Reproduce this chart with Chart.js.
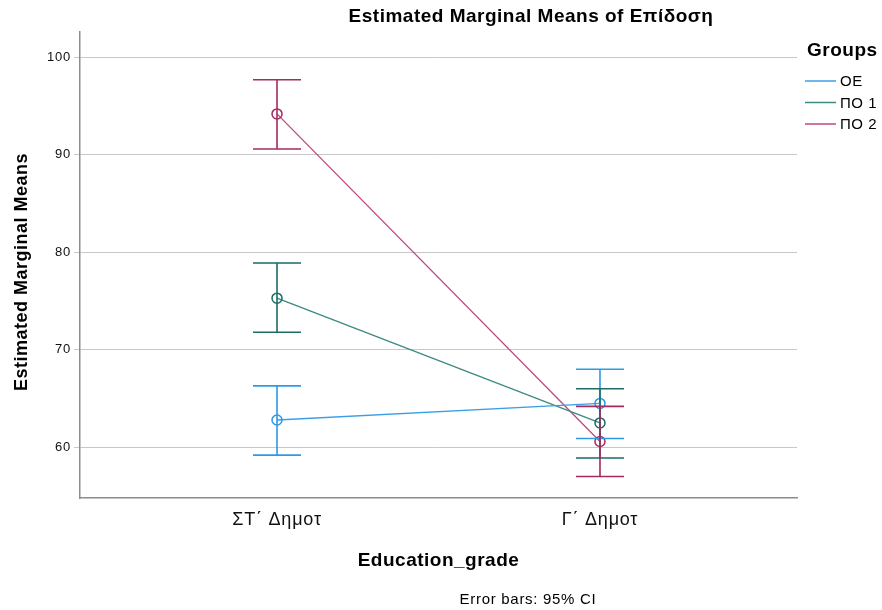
<!DOCTYPE html>
<html>
<head>
<meta charset="utf-8">
<script src="https://cdn.jsdelivr.net/npm/chart.js@4/dist/chart.umd.min.js"></script>
<style>
html,body{margin:0;padding:0;background:#fff;}
#wrap{width:882px;height:610px;position:relative;}
</style>
</head>
<body>
<div id="wrap"><canvas id="c" width="882" height="610"></canvas></div>
<script>
// ---- data ----
const categories = ['ΣΤ΄ Δημοτ', 'Γ΄ Δημοτ'];
const groups = ['ΟΕ', 'ΠΟ 1', 'ΠΟ 2'];
const meanOE  = [62.8, 64.5];
const lowOE   = [59.2, 60.9];
const highOE  = [66.3, 68.0];
const meanPO1 = [75.3, 62.5];
const lowPO1  = [71.8, 58.9];
const highPO1 = [78.9, 66.0];
const meanPO2 = [94.2, 60.6];
const lowPO2  = [90.6, 57.0];
const highPO2 = [97.7, 64.2];
const yTicks = [60, 70, 80, 90, 100];

const titleText = 'Estimated Marginal Means of Επίδοση';
const yTitle = 'Estimated Marginal Means';
const xTitle = 'Education_grade';
const legendTitle = 'Groups';
const footnote = 'Error bars: 95% CI';

// ---- styles ----
const lineColors = ['#3a9fe6', '#3c8a82', '#bc4a80'];
const barColors  = ['#2c9ae6', '#1d6c65', '#a42b60'];
const FONT = "'Liberation Sans', Arial, sans-serif";

const means = [meanOE, meanPO1, meanPO2];
const lows  = [lowOE, lowPO1, lowPO2];
const highs = [highOE, highPO1, highPO2];

const datasets = groups.map((g, k) => ({
  label: g,
  data: categories.map((c, i) => ({x: i, y: means[k][i]})),
  borderColor: lineColors[k],
  borderWidth: 1.3,
  pointRadius: 5,
  pointHoverRadius: 5,
  pointBackgroundColor: 'rgba(0,0,0,0)',
  pointBorderColor: barColors[k],
  pointBorderWidth: 1.5,
  tension: 0,
  showLine: true
}));

const spacing = {
  id: 'spacing',
  beforeDraw(chart) { chart.ctx.letterSpacing = '0.8px'; }
};

const errorBars = {
  id: 'errorBars',
  afterDatasetsDraw(chart) {
    const ctx = chart.ctx, xs = chart.scales.x, ys = chart.scales.y;
    ctx.save();
    groups.forEach((g, k) => {
      ctx.strokeStyle = barColors[k];
      ctx.lineWidth = 1.6;
      categories.forEach((c, i) => {
        const x = xs.getPixelForValue(i);
        const yl = ys.getPixelForValue(lows[k][i]);
        const yh = ys.getPixelForValue(highs[k][i]);
        const hw = 24;
        ctx.beginPath();
        ctx.moveTo(x, yl); ctx.lineTo(x, yh);
        ctx.moveTo(x - hw, yl); ctx.lineTo(x + hw, yl);
        ctx.moveTo(x - hw, yh); ctx.lineTo(x + hw, yh);
        ctx.stroke();
      });
    });
    ctx.restore();
  }
};

const texts = {
  id: 'texts',
  afterDraw(chart) {
    const ctx = chart.ctx, a = chart.chartArea;
    ctx.save();
    ctx.fillStyle = '#000';
    ctx.textBaseline = 'middle';
    // title
    ctx.letterSpacing = '0.5px';
    ctx.font = 'bold 19px ' + FONT;
    ctx.textAlign = 'center';
    ctx.fillText(titleText, 531, 17);
    // x title
    ctx.font = 'bold 19px ' + FONT;
    ctx.fillText(xTitle, (a.left + a.right) / 2, 561);
    // footnote
    ctx.letterSpacing = '0.7px';
    ctx.font = '15px ' + FONT;
    ctx.fillText(footnote, 528, 600);
    // y title
    ctx.letterSpacing = '0.5px';
    ctx.save();
    ctx.translate(22, 272);
    ctx.rotate(-Math.PI / 2);
    ctx.font = 'bold 18px ' + FONT;
    ctx.fillText(yTitle, 0, 0);
    ctx.restore();
    // legend
    ctx.textAlign = 'left';
    ctx.font = 'bold 19px ' + FONT;
    ctx.fillText(legendTitle, 807, 51);
    ctx.font = '15px ' + FONT;
    groups.forEach((g, k) => {
      const y = 81 + k * 21.5;
      ctx.strokeStyle = lineColors[k];
      ctx.lineWidth = 1.5;
      ctx.beginPath();
      ctx.moveTo(805, y); ctx.lineTo(836, y);
      ctx.stroke();
      ctx.fillStyle = '#000';
      ctx.fillText(g, 840, y + 1);
    });
    ctx.restore();
  }
};

Chart.defaults.font.family = FONT;
Chart.defaults.color = '#000';

new Chart(document.getElementById('c'), {
  type: 'scatter',
  data: {datasets},
  options: {
    responsive: false,
    animation: false,
    layout: {padding: {top: 32, right: 85, left: 0, bottom: 0}},
    plugins: {legend: {display: false}, title: {display: false}, tooltip: {enabled: false}},
    scales: {
      x: {
        type: 'linear',
        min: -0.61, max: 1.61,
        afterBuildTicks(scale) { scale.ticks = categories.map((c, i) => ({value: i})); },
        afterFit(scale) { scale.height = 112; },
        grid: {display: false, drawTicks: false},
        border: {display: true, color: '#8c8c8c', width: 1.5},
        ticks: {
          callback: (v) => categories[v] !== undefined ? categories[v] : '',
          font: {size: 18}, color: '#111', padding: 11, maxRotation: 0
        }
      },
      y: {
        min: 54.8, max: 102.6,
        afterBuildTicks(scale) { scale.ticks = yTicks.map(v => ({value: v})); },
        afterFit(scale) { scale.width = 80; },
        grid: {color: '#c8c8c8', lineWidth: 1, tickLength: 6, tickColor: '#c8c8c8'},
        border: {display: true, color: '#8c8c8c', width: 1.5},
        ticks: {font: {size: 13}, color: '#111', padding: 3}
      }
    }
  },
  plugins: [spacing, errorBars, texts]
});
</script>
</body>
</html>
